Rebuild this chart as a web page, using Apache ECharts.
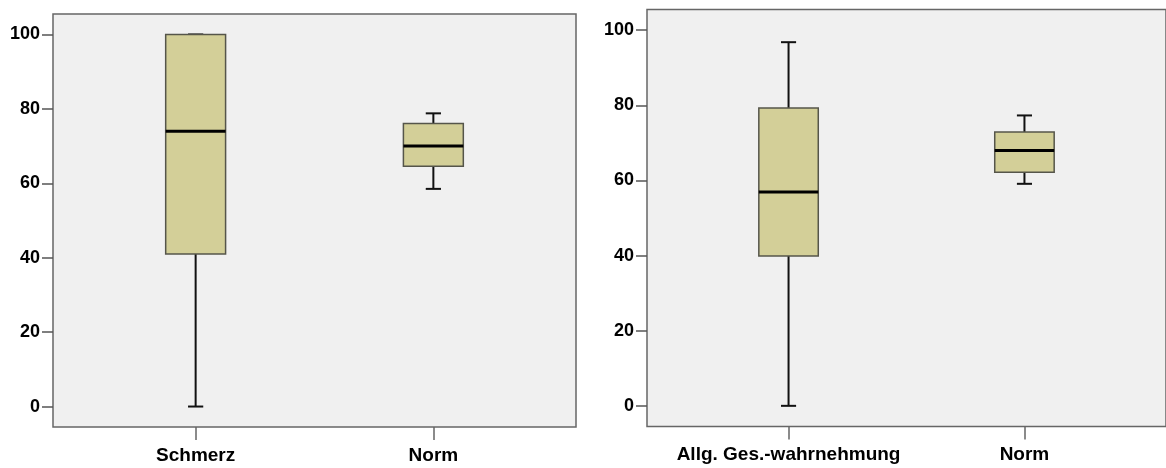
<!DOCTYPE html>
<html>
<head>
<meta charset="utf-8">
<script src="https://cdn.jsdelivr.net/npm/echarts@6/dist/echarts.min.js"></script>
<style>
html,body{margin:0;padding:0;background:#fff;}
#c{width:1166px;height:468px;}
</style>
</head>
<body>
<div id="c"></div>
<script>
// Data
var leftCategories = ['Schmerz', 'Norm'];
var rightCategories = ['Allg. Ges.-wahrnehmung', 'Norm'];
// [min, Q1, median, Q3, max]
var leftBoxes = [
  [0, 41, 74, 100, 100],
  [58.5, 64.6, 70.0, 76.1, 78.8]
];
var rightBoxes = [
  [0, 39.9, 56.9, 79.3, 96.8],
  [59.1, 62.2, 68.0, 72.9, 77.3]
];
var yTicks = [0, 20, 40, 60, 80, 100];

var chart = echarts.init(document.getElementById('c'), null, {renderer: 'canvas'});

function renderBox(params, api) {
  var x = api.value(0);
  var mn = api.value(1), q1 = api.value(2), md = api.value(3), q3 = api.value(4), mx = api.value(5);
  var bw = api.size([0.252, 0])[0];
  var cw = api.size([0.064, 0])[0];
  var pMin = api.coord([x, mn]), pQ1 = api.coord([x, q1]), pMd = api.coord([x, md]),
      pQ3 = api.coord([x, q3]), pMax = api.coord([x, mx]);
  var cx = pMin[0];
  var wStyle = {stroke: '#111', lineWidth: 2};
  return {
    type: 'group',
    children: [
      {type: 'line', shape: {x1: cx, y1: pQ3[1], x2: cx, y2: pMax[1]}, style: wStyle},
      {type: 'line', shape: {x1: cx, y1: pQ1[1], x2: cx, y2: pMin[1]}, style: wStyle},
      {type: 'line', shape: {x1: cx - cw / 2, y1: pMax[1], x2: cx + cw / 2, y2: pMax[1]}, style: wStyle},
      {type: 'line', shape: {x1: cx - cw / 2, y1: pMin[1], x2: cx + cw / 2, y2: pMin[1]}, style: wStyle},
      {type: 'rect', shape: {x: cx - bw / 2, y: pQ3[1], width: bw, height: pQ1[1] - pQ3[1]},
        style: {fill: '#d3cf98', stroke: '#55554a', lineWidth: 1.5}},
      {type: 'line', shape: {x1: cx - bw / 2, y1: pMd[1], x2: cx + bw / 2, y2: pMd[1]},
        style: {stroke: '#000', lineWidth: 3}}
    ]
  };
}

function toData(boxes) {
  return boxes.map(function (b, i) { return [i].concat(b); });
}

function xAxisFor(gridIndex, cats) {
  return {
    type: 'value', gridIndex: gridIndex, min: -0.6, max: 1.6, position: 'bottom',
    splitLine: {show: false},
    axisLine: {show: false, onZero: false},
    axisTick: {show: true, inside: false, customValues: [0, 1], length: 13, lineStyle: {color: '#666', width: 1.5}},
    axisLabel: {
      customValues: [0, 1], margin: 19,
      formatter: function (v) { return cats[Math.round(v)] || ''; },
      color: '#000', fontWeight: 'bold', fontSize: 19, fontFamily: 'Liberation Sans'
    }
  };
}
function yAxisFor(gridIndex) {
  return {
    type: 'value', gridIndex: gridIndex, min: -5.5, max: 105.5, position: 'left',
    splitLine: {show: false},
    axisLine: {show: false, onZero: false},
    axisTick: {show: true, inside: false, customValues: yTicks, length: 11, lineStyle: {color: '#555', width: 1.5}},
    axisLabel: {
      customValues: yTicks, margin: 13,
      color: '#000', fontWeight: 'bold', fontSize: 18, fontFamily: 'Liberation Sans'
    }
  };
}

chart.setOption({
  animation: false,
  backgroundColor: '#fff',
  grid: [
    {left: 53, top: 14, width: 523, height: 413, show: true, backgroundColor: '#f0f0f0', borderColor: '#666', borderWidth: 1.5},
    {left: 647, top: 9.5, width: 527, height: 417, show: true, backgroundColor: '#f0f0f0', borderColor: '#666', borderWidth: 1.5}
  ],
  xAxis: [xAxisFor(0, leftCategories), xAxisFor(1, rightCategories)],
  yAxis: [yAxisFor(0), yAxisFor(1)],
  series: [
    {type: 'custom', xAxisIndex: 0, yAxisIndex: 0, renderItem: renderBox, data: toData(leftBoxes)},
    {type: 'custom', xAxisIndex: 1, yAxisIndex: 1, renderItem: renderBox, data: toData(rightBoxes)}
  ]
});
</script>
</body>
</html>
